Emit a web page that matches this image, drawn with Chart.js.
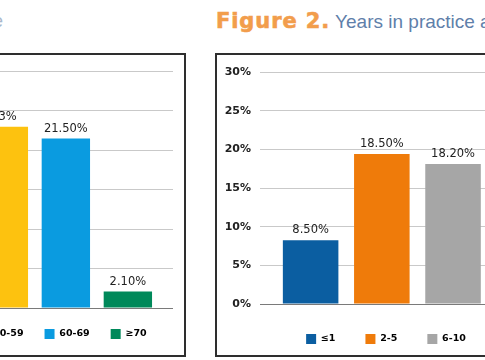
<!DOCTYPE html>
<html>
<head>
<meta charset="utf-8">
<script src="https://cdn.jsdelivr.net/npm/chart.js@4"></script>
<style>
  body { margin: 0; width: 485px; height: 360px; overflow: hidden; position: relative; background: #fff; }
  .box { position: absolute; border: 2px solid #2e2e2e; box-sizing: border-box; }
  canvas { position: absolute; }
  .title { position: absolute; top: 9px; white-space: nowrap; font-family: "Liberation Sans", Arial, sans-serif; font-size: 19px; line-height: 24px; color: #5f80aa; }
  .title b { font-family: "DejaVu Sans", sans-serif; font-size: 21px; color: #f29d4c; letter-spacing: 0.9px; -webkit-text-stroke: 0.6px #f29d4c; }
</style>
</head>
<body>
<div class="title" style="right: 482px; text-align: right; color: #a9b8cc;">e</div>
<div class="title" style="left: 216px;"><b>Figure 2.</b> Years in practice a</div>
<div class="box" style="left: -10px; top: 53px; width: 196px; height: 304px;"></div>
<div class="box" style="left: 215px; top: 53px; width: 300px; height: 304px;"></div>
<canvas id="ageChart" width="221" height="293" style="left: -48px; top: 56px;"></canvas>
<canvas id="practiceChart" width="336" height="298" style="left: 218px; top: 56px;"></canvas>
<script>
// left panel (cut off): age groups
var ageGroups = ["50-59", "60-69", "≥70"];
var ageShares = [23.0, 21.5, 2.1];
var ageLabels = ["23%", "21.50%", "2.10%"];
var ageColors = ["#fdc20f", "#0a9be0", "#00895a"];

// Figure 2: years in practice
var practiceGroups = ["≤1", "2-5", "6-10"];
var practiceShares = [8.25, 19.4, 18.1];
var practiceLabels = ["8.50%", "18.50%", "18.20%"];
var practiceColors = ["#0b5ea1", "#ef7b0a", "#a6a6a6"];

var yTickLabels = ["0%", "5%", "10%", "15%", "20%", "25%", "30%"];

// prints the value text above each bar
var valueText = {
  id: "valueText",
  afterDatasetsDraw: function(chart, args, opts) {
    var ctx = chart.ctx;
    ctx.save();
    ctx.font = '11.5px "DejaVu Sans"';
    ctx.fillStyle = "#222";
    ctx.textAlign = "center";
    ctx.textBaseline = "bottom";
    chart.getDatasetMeta(0).data.forEach(function(bar, i) {
      ctx.fillText(opts.texts[i], bar.x, bar.y - 4);
    });
    ctx.restore();
  }
};

function makeChart(id, groups, shares, texts, colors, xMin, xMax, legendPad, topPad) {
  var ctx = document.getElementById(id).getContext("2d");
  return new Chart(ctx, {
    type: "bar",
    data: {
      labels: groups,
      datasets: [{
        data: shares.map(function(v, i) { return { x: i, y: v }; }),
        backgroundColor: colors,
        borderWidth: 0,
        categoryPercentage: 1,
        barPercentage: 0.78
      }]
    },
    options: {
      responsive: false,
      animation: false,
      layout: { padding: { top: topPad, left: 0, right: 0, bottom: 0 } },
      scales: {
        x: { type: "linear", display: false, offset: false, min: xMin, max: xMax },
        y: {
          min: 0,
          max: 30,
          ticks: {
            stepSize: 5,
            padding: 9,
            color: "#222",
            font: { family: "DejaVu Sans", size: 11, weight: "bold" },
            callback: function(v, i) { return yTickLabels[i]; }
          },
          grid: {
            drawTicks: false,
            color: function(c) { return c.tick && c.tick.value === 0 ? "#7a7a7a" : "#c9c9c9"; }
          },
          border: { display: false },
          afterFit: function(scale) { scale.width = 42; }
        }
      },
      plugins: {
        tooltip: { enabled: false },
        valueText: { texts: texts },
        legend: {
          position: "bottom",
          labels: {
            boxWidth: 10,
            boxHeight: 10,
            padding: legendPad,
            color: "#333",
            font: { family: "DejaVu Sans", size: 9.5, weight: "bold" },
            generateLabels: function(chart) {
              return chart.data.labels.map(function(t, i) {
                return { text: t, fillStyle: colors[i], strokeStyle: colors[i], lineWidth: 0, index: i };
              });
            }
          }
        }
      }
    },
    plugins: [valueText]
  });
}

window.onload = function() {
  makeChart("ageChart", ageGroups, ageShares, ageLabels, ageColors, -0.159, 2.728, 21, 15);
  makeChart("practiceChart", practiceGroups, practiceShares, practiceLabels, practiceColors, -0.711, 3.418, 30, 16);
};
</script>
</body>
</html>
